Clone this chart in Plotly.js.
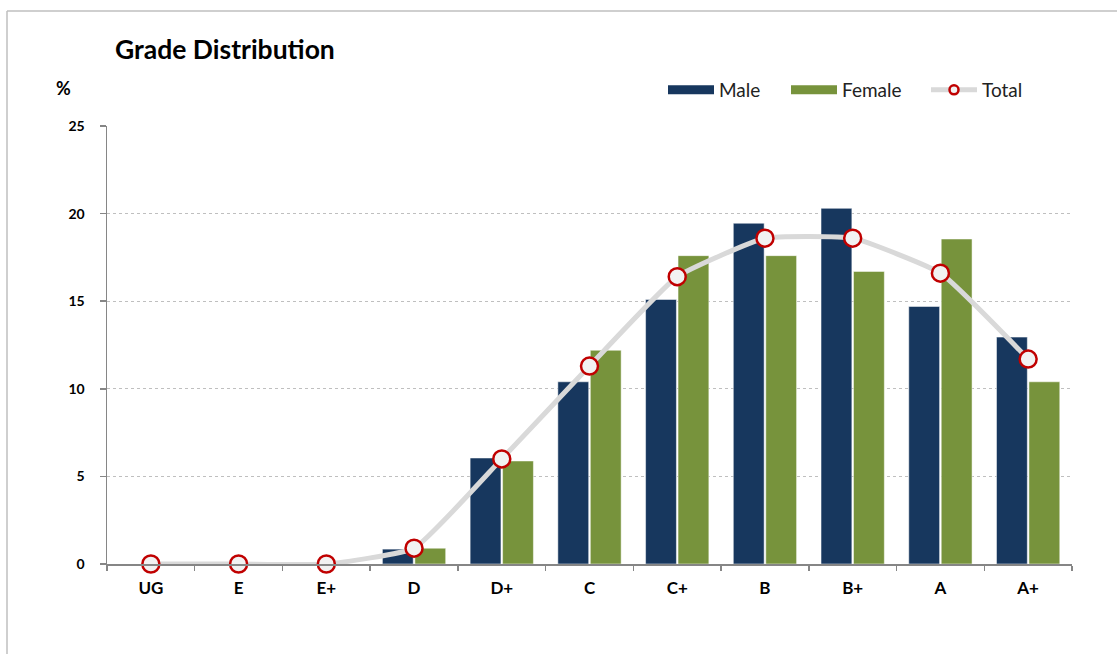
<!DOCTYPE html>
<html>
<head>
<meta charset="utf-8">
<script src="https://cdn.plot.ly/plotly-3.0.1.min.js"></script>
<style>html,body{margin:0;padding:0;background:#fff;}#chart{width:1117px;height:654px;}</style>
</head>
<body>
<div id="chart"></div>
<script>
const grades = ["UG","E","E+","D","D+","C","C+","B","B+","A","A+"];
const male   = [0, 0, 0, 0.85, 6.05, 10.4, 15.1, 19.45, 20.3, 14.7, 12.95];
const female = [0, 0, 0, 0.9, 5.88, 12.2, 17.6, 17.6, 16.7, 18.55, 10.4];
const total  = [0, 0, 0, 0.9, 6.0, 11.3, 16.4, 18.6, 18.6, 16.6, 11.7];
const yTicks = [0, 5, 10, 15, 20, 25];

const FONT = "Lato, 'Open Sans', sans-serif";
const navy = "#17375e", olive = "#77933c";
const L = 107, R = 1072, T = 126, B = 564;
const px = v => (v - L) / (R - L);
const py = v => (B - v) / (B - T);

const legFont = {family:FONT, size:19, color:"#222"};
const mkLegend = x => ({orientation:"h", x:px(x), xanchor:"left", y:py(90), yanchor:"middle",
  font:legFont, itemwidth:46, bgcolor:"rgba(0,0,0,0)"});

const traces = [
  {type:"bar", name:"Male", x:grades, y:male, marker:{color:navy, line:{color:"#ffffff", width:0.5}}, showlegend:false, cliponaxis:false},
  {type:"bar", name:"Female", x:grades, y:female, marker:{color:olive, line:{color:"#ffffff", width:0.5}}, showlegend:false, cliponaxis:false},
  {type:"scatter", mode:"lines+markers", name:"Total", x:grades, y:total,
   line:{color:"#d9d9d9", width:5, shape:"spline", smoothing:0.4},
   marker:{symbol:"circle", size:17, color:"#f2f2f2", line:{color:"#c00000", width:2.5}},
   showlegend:false, cliponaxis:false},
  {type:"scatter", mode:"lines", name:"Male", x:[null], y:[null], line:{color:navy, width:9}, legend:"legend", hoverinfo:"skip"},
  {type:"scatter", mode:"lines", name:"Female", x:[null], y:[null], line:{color:olive, width:9}, legend:"legend2", hoverinfo:"skip"},
  {type:"scatter", mode:"lines+markers", name:"Total", x:[null], y:[null], legend:"legend3",
   line:{color:"#d9d9d9", width:5}, marker:{symbol:"circle", size:9, color:"#f2f2f2", line:{color:"#c00000", width:2.5}}, hoverinfo:"skip"}
];

const layout = {
  width:1117, height:654,
  margin:{l:L, r:1117-R, t:T, b:654-B},
  paper_bgcolor:"#ffffff", plot_bgcolor:"#ffffff",
  font:{family:FONT, color:"#000000"},
  barmode:"group", bargap:0.26, bargroupgap:0.05,
  title:{text:"<b>Grade Distribution</b>", font:{family:FONT, size:26.5, color:"#000"},
         xref:"container", yref:"container", x:115/1117, xanchor:"left", y:1-50/654, yanchor:"middle"},
  xaxis:{type:"category", range:[-0.5, 10.5], showgrid:false, showline:true, linecolor:"#868686", linewidth:1.5,
         ticks:"outside", tickson:"boundaries", ticklen:5, tickcolor:"#868686", tickwidth:1.5,
         tickfont:{family:FONT, size:17, color:"#000", weight:"bold"}, ticklabelstandoff:8, fixedrange:true},
  yaxis:{range:[0,25], tickvals:yTicks, showgrid:true, gridcolor:"#bfbfbf", griddash:"dot", gridwidth:1,
         showline:true, linecolor:"#868686", linewidth:1.5, ticks:"outside", ticklen:6, tickcolor:"#868686", tickwidth:1.5,
         tickfont:{family:FONT, size:14, color:"#000", weight:"bold"}, ticklabelstandoff:12, zeroline:false, fixedrange:true},
  legend:mkLegend(663),
  legend2:mkLegend(786),
  legend3:mkLegend(926),
  annotations:[{text:"<b>%</b>", xref:"paper", yref:"paper", x:px(63), y:py(88),
                xanchor:"center", yanchor:"middle", showarrow:false, font:{family:FONT, size:18, color:"#000"}}],
  shapes:[
    {type:"line", xref:"paper", yref:"paper", x0:px(7), x1:px(1117), y0:py(11), y1:py(11), line:{color:"#bfbfbf", width:1.5}},
    {type:"line", xref:"paper", yref:"paper", x0:px(7), x1:px(7), y0:py(11), y1:py(660), line:{color:"#bfbfbf", width:1.5}}
  ]
};

Plotly.newPlot("chart", traces, layout, {displayModeBar:false, staticPlot:true});
</script>
</body>
</html>
